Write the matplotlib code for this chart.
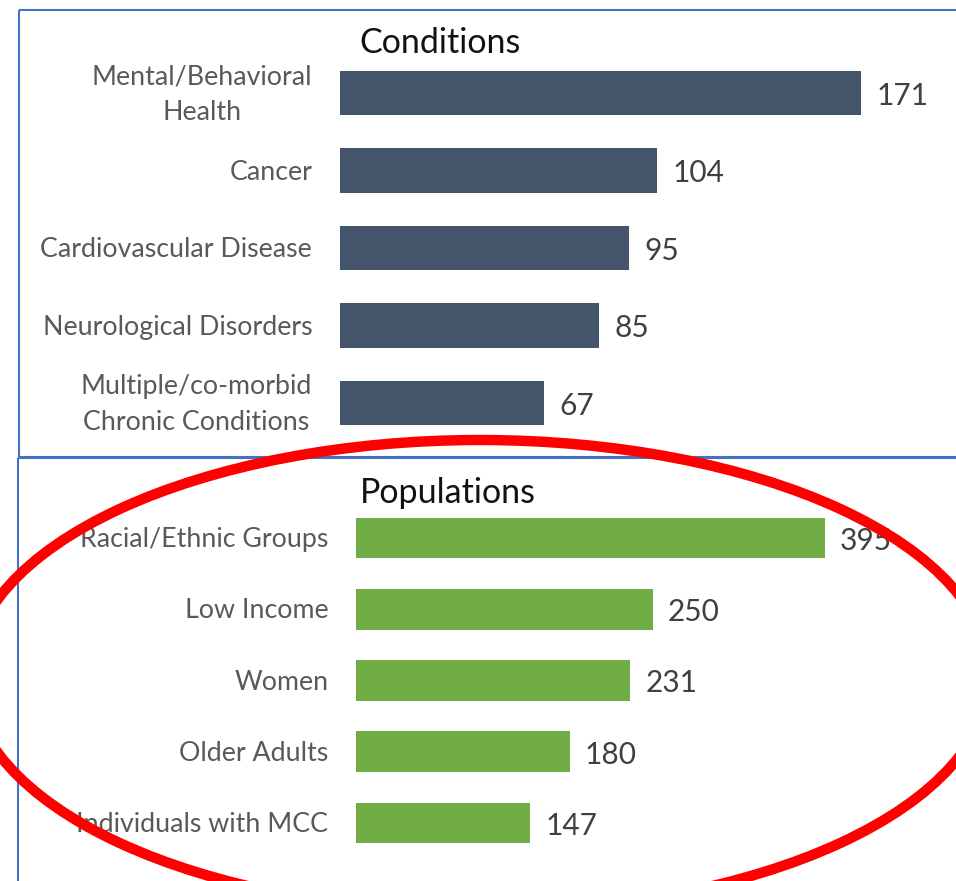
import matplotlib
matplotlib.use("Agg")
import matplotlib.pyplot as plt
from matplotlib.patches import Rectangle, Ellipse

plt.rcParams['font.family'] = ['Lato', 'DejaVu Sans']

# data
cond_labels = ['Mental/Behavioral\nHealth', 'Cancer', 'Cardiovascular Disease',
               'Neurological Disorders', 'Multiple/co-morbid\nChronic Conditions']
cond_values = [171, 104, 95, 85, 67]
pop_labels = ['Racial/Ethnic Groups', 'Low Income', 'Women', 'Older Adults',
              'Individuals with MCC']
pop_values = [395, 250, 231, 180, 147]

W, H = 956, 881
fig = plt.figure(figsize=(W / 100, H / 100), dpi=100)


def px_axes(x0, y0, x1, y1):
    # pixel box (top-left origin) -> figure fraction
    return fig.add_axes([x0 / W, 1 - y1 / H, (x1 - x0) / W, (y1 - y0) / H])


def panel(ax, labels, values, color, xmax):
    pos = range(len(values))
    ax.barh(pos, values, height=0.57, color=color)
    ax.set_xlim(0, xmax)
    ax.set_ylim(len(values) - 0.5, -0.5)
    ax.set_xticks([])
    ax.set_yticks([])
    for s in ax.spines.values():
        s.set_visible(False)
    ax.patch.set_visible(False)
    for p, lab, v in zip(pos, labels, values):
        # category label left of the bar
        ax.annotate(lab, (0, p), xytext=(-20, -1.2), textcoords='offset points',
                    va='center', ha='right', fontsize=19.3, color='#595959',
                    multialignment='center', linespacing=1.55,
                    annotation_clip=False)
        ax.annotate(str(v), (v, p), xytext=(11, -2), textcoords='offset points',
                    va='center', ha='left', fontsize=21.5, color='#404040')


ax1 = px_axes(340, 54.25, 940, 441.75)
panel(ax1, cond_labels, cond_values, '#44546A', 600 / 3.047)

ax2 = px_axes(356, 502.4, 940, 858.6)
panel(ax2, pop_labels, pop_values, '#70AD47', 584 / 1.187)

# overlay: titles, panel borders and red ellipse
ov = fig.add_axes([0, 0, 1, 1])
ov.set_xlim(0, W)
ov.set_ylim(H, 0)
ov.axis('off')
ov.patch.set_visible(False)
ov.text(359, 43, 'Conditions', fontsize=24.5, color='#111111', va='center', ha='left')
ov.text(360, 493, 'Populations', fontsize=24.5, color='#111111', va='center', ha='left')
ov.add_patch(Rectangle((19, 10), 1000, 447, fill=False, edgecolor='#4472C4', lw=1.5))
ov.add_patch(Rectangle((18, 458), 1000, 500, fill=False, edgecolor='#4472C4', lw=1.5))
ov.add_patch(Ellipse((480, 676), 1020, 472, fill=False, edgecolor='#FF0000', lw=7.5))

fig.savefig('out.png', dpi=100)
